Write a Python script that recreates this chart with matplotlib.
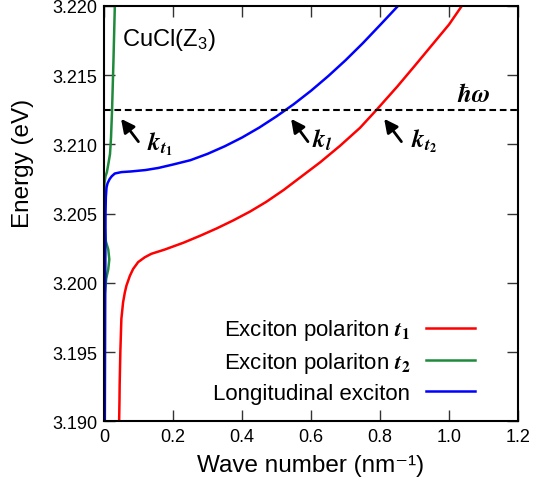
import matplotlib
matplotlib.use('Agg')
import matplotlib.pyplot as plt

plt.rcParams['font.family'] = ['Liberation Sans', 'DejaVu Sans']
plt.rcParams['mathtext.fontset'] = 'stix'

# polariton t1 branch (red)
k_t1 = [0.0435, 0.0445, 0.045, 0.047, 0.050, 0.055, 0.060, 0.0647, 0.0745, 0.084,
        0.0986, 0.118, 0.137, 0.175, 0.23, 0.28, 0.327, 0.375, 0.423, 0.47, 0.52,
        0.573, 0.626, 0.684, 0.742, 0.79, 0.85, 0.90, 0.95, 1.00, 1.037]
E_t1 = [3.1900, 3.1915, 3.1926, 3.1950, 3.1974, 3.1986, 3.1993, 3.1998, 3.2005, 3.2010,
        3.2015, 3.20185, 3.2021, 3.2024, 3.2029, 3.20342, 3.20394, 3.20452, 3.20515, 3.20585, 3.2067,
        3.2077, 3.2087, 3.2099, 3.2112, 3.2125, 3.21418, 3.21566, 3.21716, 3.21866, 3.2200]

# polariton t2 branch (green)
k_t2 = [0.001, 0.001, 0.006, 0.012, 0.015, 0.012, 0.005, 0.002, 0.001, 0.001, 0.004,
        0.008, 0.013, 0.017, 0.020, 0.023, 0.027, 0.031]
E_t2 = [3.1900, 3.1990, 3.2003, 3.2010, 3.2017, 3.2024, 3.2030, 3.2040, 3.2060, 3.2072,
        3.2077, 3.2080, 3.2087, 3.2093, 3.2105, 3.2125, 3.2160, 3.2200]

# longitudinal exciton (blue)
k_l = [0.002, 0.003, 0.004, 0.005, 0.007, 0.010, 0.016, 0.022, 0.031, 0.05, 0.079,
       0.12, 0.157, 0.20, 0.25, 0.30, 0.35, 0.40, 0.45, 0.50, 0.55, 0.60, 0.65, 0.70,
       0.75, 0.80, 0.852]
E_l = [3.1900, 3.1980, 3.2050, 3.2062, 3.2069, 3.2072, 3.2075, 3.2077, 3.2079, 3.2080, 3.20805,
       3.20815, 3.2083, 3.20855, 3.20886, 3.20932, 3.20987, 3.2105, 3.21122, 3.21203, 3.21291,
       3.21388, 3.21494, 3.21608, 3.21731, 3.21862, 3.2200]

hw = 3.2125

fig = plt.figure(figsize=(5.34, 4.89), dpi=100)
ax = fig.add_axes([0.195, 0.1364, 0.775, 0.8493])

ax.plot(k_t1, E_t1, color='#ff0000', lw=1.8, label=r'Exciton polariton $\mathbfit{t}_{\mathbf{1}}$')
ax.plot(k_t2, E_t2, color='#1f8a3c', lw=1.8, label=r'Exciton polariton $\mathbfit{t}_{\mathbf{2}}$')
ax.plot(k_l, E_l, color='#0000ff', lw=1.8, label='Longitudinal exciton')
ax.axhline(hw, color='black', lw=1.5, ls=(0, (3.2, 1.8)))

ax.set_xlim(0, 1.2)
ax.set_ylim(3.190, 3.220)
ax.set_xticks([0, 0.2, 0.4, 0.6, 0.8, 1.0, 1.2])
ax.set_xticklabels(['0', '0.2', '0.4', '0.6', '0.8', '1.0', '1.2'])
ax.set_yticks([3.190, 3.195, 3.200, 3.205, 3.210, 3.215, 3.220])
ax.set_yticklabels(['%.3f' % v for v in ax.get_yticks()])
ax.tick_params(direction='in', length=8, width=1, top=True, right=True,
               labelsize=13, color='#333333', pad=5)
for s in ax.spines.values():
    s.set_linewidth(1.5)

ax.set_xlabel('Wave number (nm\u207b\u00b9)', fontsize=17.5, labelpad=6)
ax.set_ylabel('Energy (eV)', fontsize=17.5)
ax.yaxis.set_label_coords(-0.17, 0.624)

ax.text(0.051, 3.2176, r'CuCl(Z$_{\mathregular{3}}$)', fontsize=17, va='center')

arrow = dict(arrowstyle='-|>', color='black', lw=2, mutation_scale=20,
             shrinkA=0, shrinkB=0)
ax.annotate('', xy=(0.049, 3.21185), xytext=(0.0994, 3.2102), arrowprops=arrow)
ax.annotate('', xy=(0.542, 3.21185), xytext=(0.591, 3.2102), arrowprops=arrow)
ax.annotate('', xy=(0.812, 3.21185), xytext=(0.862, 3.2102), arrowprops=arrow)
ax.text(0.162, 3.2101, r'$\mathbfit{k}_{\mathbfit{t}_{\mathbf{1}}}$', fontsize=18, ha='center', va='center')
ax.text(0.632, 3.2104, r'$\mathbfit{k}_{\mathbfit{l}}$', fontsize=18, ha='center', va='center')
ax.text(0.927, 3.2103, r'$\mathbfit{k}_{\mathbfit{t}_{\mathbf{2}}}$', fontsize=18, ha='center', va='center')
ax.text(1.072, 3.21365, r'$\mathbfit{\hbar\omega}$', fontsize=18, ha='center', va='center')

ax.legend(loc='lower right', bbox_to_anchor=(0.896, 0.042), frameon=False,
          markerfirst=False, fontsize=16, handlelength=2.2, handletextpad=0.7,
          labelspacing=0.35, borderaxespad=0, borderpad=0)

fig.savefig('out.png', dpi=100)
